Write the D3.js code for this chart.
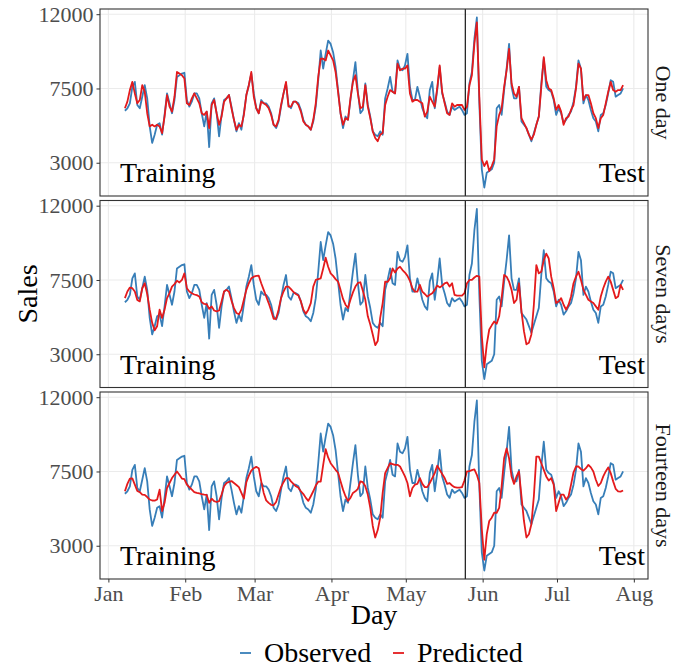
<!DOCTYPE html>
<html>
<head>
<meta charset="utf-8">
<script src="https://cdn.jsdelivr.net/npm/d3@7"></script>
<style>
  body { margin: 0; background: #fff; }
  text { font-family: "Liberation Serif", "DejaVu Serif", serif; }
</style>
</head>
<body>
<svg width="686" height="668"></svg>
<script>
// first day of the series, one value per day after that
var startDay = new Date(2018, 0, 7, 16);
var splitDay = new Date(2018, 4, 25);

var observed = [
  6150, 6300, 6600, 7600, 7900, 6500, 6300, 7000, 7700, 6900,
  5200, 4200, 4700, 5300, 5400, 4700, 5900, 7200, 6600, 6000,
  6800, 8200, 8300, 8400, 8450, 6800, 6400, 6700, 7200, 7200,
  6900, 6000, 5200, 6100, 3950, 6600, 6900, 6000, 4600, 5900,
  6800, 6900, 7100, 6400, 5600, 4900, 5400, 5000, 6000, 7100,
  7700, 8400, 7200, 6300, 6000, 6800, 6600, 6600, 6400, 6000,
  5300, 5100, 5500, 6400, 7200, 7800, 6500, 6300, 6700, 6700,
  6600, 6200, 5600, 5300, 5200, 5000, 5500, 6400, 8000, 9800,
  8700, 9600, 10400, 10200, 9700, 8800, 7400, 6000, 5100, 5800,
  5600, 6800, 8000, 9100, 7300, 6000, 6200, 7800, 6500, 5800,
  4900, 4700, 4600, 4900, 4700, 6900, 7500, 8200, 7300, 7200,
  9200, 8700, 8600, 8900, 9600, 7600, 6800, 6800, 7600, 7000,
  6300, 5900, 5700, 7400, 7900, 6300, 7400, 8800, 7200, 6700,
  6100, 5900, 6400, 6200, 6300, 6400, 6200, 5900, 6000, 7800,
  8500, 10500, 11800, 6600, 2600, 1500, 2400, 2500, 2600, 3000,
  6300, 6500, 5900, 7400, 8700, 10200, 7600, 6900, 6900, 7600,
  5500, 5300, 5100, 4700, 4300, 4800, 5300, 5800, 7800, 9300,
  7600, 7400, 7300, 6800, 5900, 6300, 6000, 5400, 5600, 5900,
  6100, 6700, 7600, 9200, 8700, 6600, 7100, 6800, 6200, 5700,
  5500, 4900, 5900, 6000, 6500, 7200, 8000, 7900, 7000, 7100,
  7200, 7500
];

var predOneDay = [
  6300, 6700, 7400, 7900, 7200, 6600, 6800, 7700, 7300, 6000,
  5200, 5300, 5200, 5300, 5200, 4800, 5800, 7100, 6400, 6100,
  7000, 8500, 8400, 8300, 8100, 6600, 6500, 6900, 7200, 6900,
  6600, 6000, 5900, 6100, 5100, 6500, 6800, 6000, 5300, 5800,
  6700, 6900, 7100, 6300, 5600, 5000, 5300, 5200, 5900, 7100,
  7700, 8500, 7000, 6300, 6000, 6700, 6600, 6500, 6300, 5900,
  5300, 5200, 5600, 6500, 7200, 7900, 6400, 6400, 6700, 6700,
  6500, 6100, 5500, 5300, 5200, 5000, 5600, 6600, 8200, 9300,
  9300, 9200, 9800, 9500, 9200, 8500, 7300, 6000, 5300, 5700,
  5600, 6900, 7900, 8300, 7200, 6300, 6400, 7700, 6400, 5700,
  4900, 4500, 4300, 4700, 4800, 6500, 7000, 7400, 7300, 7200,
  9000, 8600, 8700, 8700, 8900, 7200, 6700, 6800, 6800, 6700,
  6600, 5800, 6100, 7000, 6700, 6400, 7500, 8900, 7300, 6600,
  6000, 5900, 6600, 6400, 6500, 6500, 6500, 6200, 6400, 7700,
  8300, 10200, 11500, 7000, 3200, 2800, 3100, 2500, 2800, 3200,
  5200, 5900, 6300, 7600, 8600, 9900, 7800, 7200, 7000, 7600,
  5700, 5400, 5100, 4700, 4400, 4700, 5300, 5800, 7600, 9400,
  8000, 7500, 7400, 6900, 6200, 6500, 6100, 5300, 5700, 5800,
  6200, 6500, 7500, 9000, 8700, 6800, 7100, 7100, 6600, 6000,
  5700, 5100, 5700, 5900, 6600, 7300, 7900, 7400, 7300, 7400,
  7400, 7700
];

var predSevenDays = [
  6400, 6800, 7040, 7000, 6800, 6290, 6200, 7000, 7300, 6650,
  5700, 4900, 4450, 4700, 5700, 5200, 5700, 6400, 6700, 7100,
  7250, 7450, 7350, 7500, 7900, 7000, 6800, 6700, 6620, 6580,
  6500, 6150, 6050, 6030, 5750, 5900, 5650, 5600, 5650, 6200,
  6800, 6900, 6790, 6250, 5800, 5500, 5420, 5700, 6300, 6900,
  7300, 7600, 7700, 7750, 7760, 7300, 6900, 6500, 6100, 5650,
  5150, 5150, 5700, 6400, 6800, 7100, 7100, 6950, 6770, 6650,
  6560, 6200, 5700, 5450, 5700, 6100, 7100, 7500, 7550, 7600,
  8200, 8850, 8300, 7900, 7750, 7550, 7400, 6900, 6350, 6000,
  5800, 6300, 6750, 7100, 7320, 7360, 6850, 6300, 5300, 4800,
  4200, 3550, 3800, 5200, 6100, 7400, 7380, 7600, 8200, 7950,
  8200, 8300, 8100, 7950, 7750, 7450, 7000, 6790, 6790, 7200,
  6790, 6650, 6490, 6600, 6690, 6900, 7160, 7050, 7150, 7300,
  7350, 7100, 7300, 6600, 6550, 6550, 6550, 6700, 7300, 7500,
  7500, 7650, 7750, 7700, 4100, 2200, 3600, 4500, 4750, 4980,
  4850, 5300, 6400, 7800, 7700, 7400, 6900, 6100, 6300, 7300,
  5600, 4400, 3600, 3700, 4200, 6000, 8400, 7900, 8000, 8700,
  9100, 8800, 7700, 7000, 6100, 6200, 6400, 6000, 5700, 6000,
  6500, 7300, 7700, 8000, 7500, 6900, 6600, 6300, 6200, 6100,
  5900, 5700, 6500, 7000, 7400, 7700, 7400, 6900, 6400, 6500,
  7200, 6900
];

var predFourteenDays = [
  6300, 6750, 7070, 7080, 6700, 6320, 6250, 6100, 6080, 5950,
  5800, 5740, 5730, 5800, 6400, 5100, 5600, 6500, 6800, 7100,
  7300, 7500, 7300, 7070, 7030, 6700, 6550, 6400, 6250, 6200,
  6170, 6130, 6100, 6080, 5600, 5850, 5700, 5650, 5700, 6100,
  6600, 6800, 6870, 6920, 6800, 6680, 6550, 6200, 5860, 6850,
  7250, 7550, 7700, 7780, 7700, 6900, 6200, 5750, 5600, 5480,
  5450, 5650, 6100, 6550, 6850, 7100, 7100, 6900, 6750, 6600,
  6520, 6300, 6130, 5900, 5720, 6000, 6300, 6650, 6880, 6880,
  7900, 8850, 8350, 8000, 7800, 7600, 7420, 6900, 6400, 6000,
  5720, 5900, 6200, 6300, 6450, 6900, 6850, 6600, 6100, 5300,
  4200, 3500, 3950, 4700, 6200, 7400, 7700, 8000, 7950, 7900,
  7900, 7800, 7500, 7200, 6800, 6000, 6500, 6700, 6750, 7100,
  6750, 6550, 6550, 6800, 7100, 7400, 7850, 7600, 7350, 7100,
  6750, 6800, 6650, 6550, 6520, 6520, 6550, 6950, 7500, 7520,
  7580, 7620, 7300, 6800, 4000, 2150, 3700, 4500, 4700, 5000,
  5000, 5300, 6600, 8300, 8900, 8300, 7200, 6750, 7200, 7500,
  6000, 4500, 3500, 3700, 4300, 6000, 8400, 8400, 8000, 7600,
  7200, 6950, 7100, 6700, 5100, 5600, 6100, 6100, 5800, 6000,
  6700, 7450, 7800, 7800, 7650, 7550, 7700, 7900, 7750, 7500,
  7000, 6620, 6800, 7200, 7500, 7750, 7400, 6900, 6450, 6300,
  6280, 6350
];

var horizons = ["One day", "Seven days", "Fourteen days"];
var predictions = [predOneDay, predSevenDays, predFourteenDays];
var monthNames = ["Jan", "Feb", "Mar", "Apr", "May", "Jun", "Jul", "Aug"];
var salesTicks = [3000, 7500, 12000];
var seriesNames = ["Observed", "Predicted"];

var blue = "#377eb8", red = "#e41a1c";

var svg = d3.select("svg");

var days = observed.map(function(v, i) {
  return d3.timeDay.offset(startDay, i);
});

// ggplot style 5% expansion on both axes
function expand(ext) {
  var pad = (ext[1] - ext[0]) * 0.05;
  return [ext[0] - pad, ext[1] + pad];
}

var left = 100, right = 648, panelH = 187;
var panelTops = [9, 200.5, 392];

var dayExt = d3.extent(days);
var dayPad = (dayExt[1] - dayExt[0]) * 0.05;
var x = d3.scaleTime()
  .domain([new Date(+dayExt[0] - dayPad), new Date(+dayExt[1] + dayPad)])
  .range([left, right]);

var allValues = observed.concat(predOneDay, predSevenDays, predFourteenDays);
var yDomain = expand(d3.extent(allValues));

var monthStarts = monthNames.map(function(m, i) {
  return new Date(2018, i, 1);
});

horizons.forEach(function(label, p) {
  var top = panelTops[p];
  var y = d3.scaleLinear().domain(yDomain).range([top + panelH, top]);
  var g = svg.append("g");

  // grid
  g.selectAll("line.hgrid")
    .data(salesTicks)
    .enter().append("line")
    .attr("x1", left).attr("x2", right)
    .attr("y1", function(d) { return y(d); })
    .attr("y2", function(d) { return y(d); })
    .attr("stroke", "#ebebeb").attr("stroke-width", 1.1);

  g.selectAll("line.vgrid")
    .data(monthStarts)
    .enter().append("line")
    .attr("x1", function(d) { return x(d); })
    .attr("x2", function(d) { return x(d); })
    .attr("y1", top).attr("y2", top + panelH)
    .attr("stroke", "#ebebeb").attr("stroke-width", 1.1);

  var path = d3.line()
    .x(function(d, i) { return x(days[i]); })
    .y(function(d) { return y(d); });

  g.append("path")
    .attr("d", path(observed))
    .attr("fill", "none")
    .attr("stroke", blue)
    .attr("stroke-width", 1.8)
    .attr("stroke-linejoin", "round");

  g.append("path")
    .attr("d", path(predictions[p]))
    .attr("fill", "none")
    .attr("stroke", red)
    .attr("stroke-width", 1.8)
    .attr("stroke-linejoin", "round");

  // train / test split
  g.append("line")
    .attr("x1", x(splitDay)).attr("x2", x(splitDay))
    .attr("y1", top).attr("y2", top + panelH)
    .attr("stroke", "#000").attr("stroke-width", 1.1);

  g.append("text")
    .attr("x", 120).attr("y", top + panelH - 14)
    .attr("font-size", 28)
    .text("Training");

  g.append("text")
    .attr("x", 645).attr("y", top + panelH - 14)
    .attr("text-anchor", "end")
    .attr("font-size", 28)
    .text("Test");

  g.append("rect")
    .attr("x", left).attr("y", top)
    .attr("width", right - left).attr("height", panelH)
    .attr("fill", "none")
    .attr("stroke", "#333").attr("stroke-width", 1.1);

  // y axis
  var yAxis = g.append("g")
    .attr("transform", "translate(" + left + ",0)")
    .call(d3.axisLeft(y).tickValues(salesTicks)
      .tickFormat(d3.format("d")).tickSize(3.5).tickPadding(3));
  yAxis.select(".domain").remove();
  yAxis.selectAll(".tick line").attr("stroke", "#333");
  yAxis.selectAll(".tick text")
    .attr("fill", "#4d4d4d")
    .attr("font-size", 22)
    .attr("font-family", "Liberation Serif, serif");

  // strip label on the right
  g.append("text")
    .attr("transform", "translate(656," + (top + panelH / 2) + ") rotate(90)")
    .attr("text-anchor", "middle")
    .attr("font-size", 22)
    .attr("fill", "#1a1a1a")
    .text(label);
});

// x axis under the last panel
var bottom = panelTops[2] + panelH;
var xAxis = svg.append("g")
  .attr("transform", "translate(0," + bottom + ")")
  .call(d3.axisBottom(x).tickValues(monthStarts)
    .tickFormat(function(d, i) { return monthNames[i]; })
    .tickSize(3.5).tickPadding(3));
xAxis.select(".domain").remove();
xAxis.selectAll(".tick line").attr("stroke", "#333");
xAxis.selectAll(".tick text")
  .attr("fill", "#4d4d4d")
  .attr("font-size", 22)
  .attr("font-family", "Liberation Serif, serif");

svg.append("text")
  .attr("x", (left + right) / 2).attr("y", 624)
  .attr("text-anchor", "middle")
  .attr("font-size", 28)
  .text("Day");

svg.append("text")
  .attr("transform", "translate(37," + ((panelTops[0] + bottom) / 2) + ") rotate(-90)")
  .attr("text-anchor", "middle")
  .attr("font-size", 28)
  .text("Sales");

// legend
var legendItems = [
  { name: seriesNames[0], color: blue, x: 240 },
  { name: seriesNames[1], color: red, x: 393 }
];
var legend = svg.selectAll("g.legend")
  .data(legendItems)
  .enter().append("g")
  .attr("transform", function(d) { return "translate(" + d.x + ",653)"; });
legend.append("line")
  .attr("x1", 0).attr("x2", 11)
  .attr("stroke", function(d) { return d.color; })
  .attr("stroke-width", 1.8);
legend.append("text")
  .attr("x", 24).attr("y", 9)
  .attr("font-size", 28)
  .text(function(d) { return d.name; });
</script>
</body>
</html>
